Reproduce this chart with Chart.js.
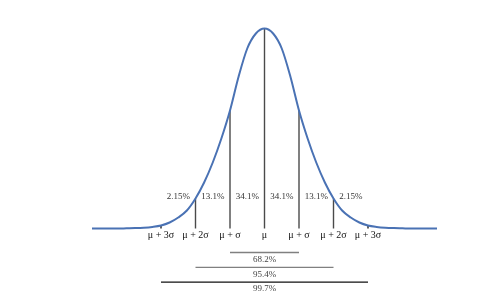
<!DOCTYPE html>
<html>
<head>
<meta charset="utf-8">
<script src="https://cdn.jsdelivr.net/npm/chart.js@4"></script>
<style>
  body { margin: 0; background: #fff; }
  #wrap { width: 485px; height: 307px; position: relative; }
</style>
</head>
<body>
<div id="wrap"><canvas id="bell"></canvas></div>
<script>
// curve, x in sigma units, height relative to the peak
let curveX = [-5,-4.75,-4.5,-4.25,-4,-3.75,-3.5,-3.25,-3,-2.75,-2.5,-2.25,-2,-1.75,-1.5,-1.25,-1,-0.75,-0.5,-0.25,
  0,0.25,0.5,0.75,1,1.25,1.5,1.75,2,2.25,2.5,2.75,3,3.25,3.5,3.75,4,4.25,4.5,4.75,5]
let curveY = [0,0,0,0,0.001,0.002,0.004,0.008,0.015,0.03,0.055,0.09,0.15,0.23,0.33,0.45,0.59,0.76,0.9,0.975,
  1,0.975,0.9,0.76,0.59,0.45,0.33,0.23,0.15,0.09,0.055,0.03,0.015,0.008,0.004,0.002,0.001,0,0,0,0]

let tickValues = [-3,-2,-1,0,1,2,3]
let tickLabels = ["μ + 3σ","μ + 2σ","μ + σ","μ","μ + σ","μ + 2σ","μ + 3σ"]
let bandLabels = ["2.15%","13.1%","34.1%","34.1%","13.1%","2.15%"]
let rangeSpans = [1,2,3]
let rangeLabels = ["68.2%","95.4%","99.7%"]

function heightAt(x){
  return curveY[curveX.indexOf(x)]
}

let datasets = [{
  data: curveX.map((x,i)=>({x: x, y: curveY[i]})),
  borderColor: "#4a72b4",
  borderWidth: 2,
  pointRadius: 0,
  cubicInterpolationMode: "monotone",
  fill: false
}]

// vertical lines at mu, +-sigma, +-2sigma and the short ticks at +-3sigma
tickValues.forEach(v => {
  datasets.push({
    data: [{x: v, y: 0}, {x: v, y: heightAt(v)}],
    borderColor: Math.abs(v)==3 ? "#222" : "#4a4a4a",
    borderWidth: 1.4,
    pointRadius: 0,
    fill: false
  })
})

const textPlugin = {
  id: "textPlugin",
  afterDraw(chart){
    let ctx = chart.ctx
    let xs = chart.scales.x
    let ys = chart.scales.y
    let base = ys.getPixelForValue(0)
    ctx.save()
    ctx.textAlign = "center"
    ctx.textBaseline = "middle"
    ctx.font = "9px 'Liberation Serif'"
    ctx.fillStyle = "#333"
    bandLabels.forEach((lab, i) => {
      let mid = (tickValues[i] + tickValues[i+1]) / 2
      ctx.fillText(lab, xs.getPixelForValue(mid), base - 31.5)
    })
    rangeSpans.forEach((s, i) => {
      let y = base + 24 + i*14.8
      ctx.strokeStyle = i==2 ? "#111" : "#808080"
      ctx.lineWidth = 1.3
      ctx.beginPath()
      ctx.moveTo(xs.getPixelForValue(-s), y)
      ctx.lineTo(xs.getPixelForValue(s), y)
      ctx.stroke()
      ctx.fillStyle = "#444"
      ctx.fillText(rangeLabels[i], xs.getPixelForValue(0), y + 7)
    })
    ctx.restore()
  }
}

new Chart(document.getElementById("bell"), {
  type: "line",
  data: { datasets: datasets },
  options: {
    responsive: true,
    maintainAspectRatio: false,
    animation: false,
    layout: { padding: { left: 92, right: 48, top: 8, bottom: 19 } },
    plugins: { legend: { display: false }, tooltip: { enabled: false } },
    scales: {
      x: {
        type: "linear",
        position: { y: 0 },
        min: -5,
        max: 5,
        afterBuildTicks: axis => { axis.ticks = tickValues.map(v => ({value: v})) },
        grid: { display: false, drawTicks: false },
        border: { display: false },
        ticks: {
          autoSkip: false,
          maxRotation: 0,
          padding: 1,
          color: "#111",
          font: { family: "Liberation Serif", size: 10 },
          callback: (v) => tickLabels[tickValues.indexOf(v)]
        }
      },
      y: {
        display: false,
        min: -0.2975,
        max: 1.1025
      }
    }
  },
  plugins: [textPlugin]
});
</script>
</body>
</html>
